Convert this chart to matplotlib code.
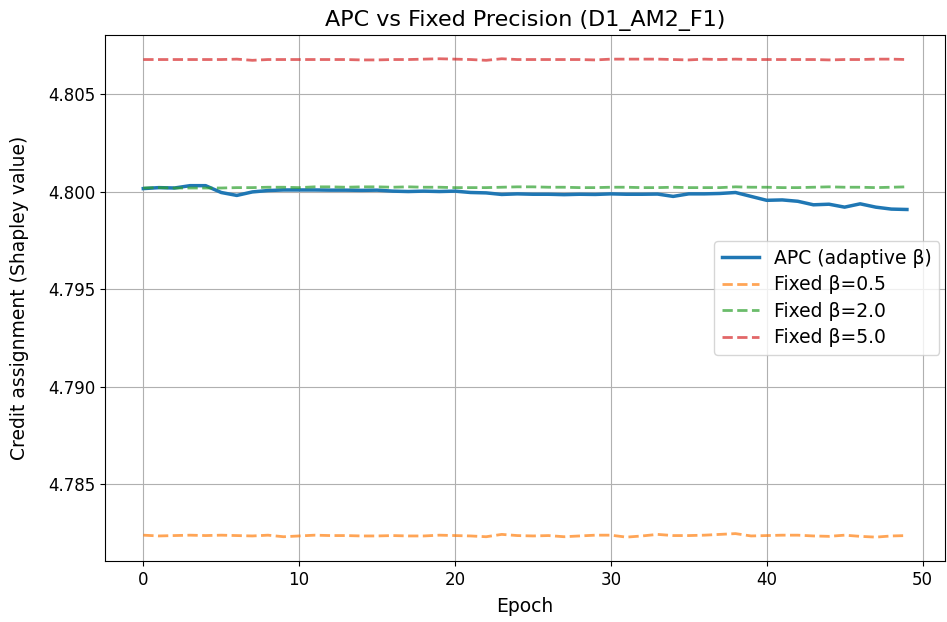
import matplotlib

matplotlib.use("Agg")
import matplotlib.pyplot as plt
import numpy as np

epochs = np.arange(50)

apc = [
    4.80015, 4.80020, 4.80018, 4.80030, 4.80030, 4.79995, 4.79980, 4.79998, 4.80005, 4.80008,
    4.80008, 4.80008, 4.80007, 4.80007, 4.80006, 4.80007, 4.80002, 4.80000, 4.80002, 4.80000,
    4.80002, 4.79995, 4.79993, 4.79985, 4.79988, 4.79986, 4.79986, 4.79984, 4.79986, 4.79985,
    4.79988, 4.79986, 4.79986, 4.79987, 4.79975, 4.79988, 4.79988, 4.79990, 4.79995, 4.79975,
    4.79955, 4.79957, 4.79950, 4.79932, 4.79935, 4.79920, 4.79937, 4.79920, 4.79910, 4.79908,
]

fixed_05 = [
    4.78240, 4.78236, 4.78238, 4.78240, 4.78238, 4.78240, 4.78238, 4.78236, 4.78240, 4.78232,
    4.78236, 4.78240, 4.78238, 4.78238, 4.78236, 4.78236, 4.78238, 4.78236, 4.78236, 4.78240,
    4.78238, 4.78236, 4.78232, 4.78244, 4.78238, 4.78236, 4.78238, 4.78232, 4.78236, 4.78240,
    4.78240, 4.78230, 4.78236, 4.78244, 4.78238, 4.78238, 4.78240, 4.78244, 4.78248, 4.78236,
    4.78238, 4.78240, 4.78240, 4.78236, 4.78234, 4.78240, 4.78234, 4.78230, 4.78236, 4.78238,
]

fixed_20 = [
    4.80018, 4.80020, 4.80018, 4.80018, 4.80018, 4.80018, 4.80020, 4.80020, 4.80022, 4.80022,
    4.80020, 4.80024, 4.80024, 4.80022, 4.80024, 4.80024, 4.80022, 4.80024, 4.80022, 4.80022,
    4.80020, 4.80020, 4.80020, 4.80022, 4.80024, 4.80024, 4.80022, 4.80022, 4.80020, 4.80020,
    4.80022, 4.80022, 4.80020, 4.80020, 4.80022, 4.80020, 4.80020, 4.80020, 4.80024, 4.80022,
    4.80022, 4.80020, 4.80020, 4.80022, 4.80024, 4.80022, 4.80022, 4.80020, 4.80022, 4.80024,
]

fixed_50 = [
    4.80676, 4.80676, 4.80676, 4.80676, 4.80676, 4.80676, 4.80678, 4.80672, 4.80676, 4.80676,
    4.80676, 4.80676, 4.80676, 4.80676, 4.80674, 4.80674, 4.80676, 4.80676, 4.80678, 4.80680,
    4.80678, 4.80676, 4.80672, 4.80680, 4.80676, 4.80676, 4.80676, 4.80676, 4.80676, 4.80674,
    4.80678, 4.80678, 4.80678, 4.80678, 4.80676, 4.80674, 4.80678, 4.80676, 4.80678, 4.80676,
    4.80676, 4.80676, 4.80676, 4.80676, 4.80674, 4.80676, 4.80676, 4.80678, 4.80678, 4.80676,
]


def main() -> None:
    plt.rcParams["font.size"] = 12
    fig, ax = plt.subplots(figsize=(9.47, 6.22), dpi=100)

    ax.plot(epochs, apc, color="#1f77b4", linewidth=2.5, label="APC (adaptive β)")
    ax.plot(epochs, fixed_05, color="#ff7f0e", linestyle="--", linewidth=2, alpha=0.7, label="Fixed β=0.5")
    ax.plot(epochs, fixed_20, color="#2ca02c", linestyle="--", linewidth=2, alpha=0.7, label="Fixed β=2.0")
    ax.plot(epochs, fixed_50, color="#d62728", linestyle="--", linewidth=2, alpha=0.7, label="Fixed β=5.0")

    ax.set_xlabel("Epoch", fontsize=13.5, labelpad=6)
    ax.set_ylabel("Credit assignment (Shapley value)", fontsize=13.5, labelpad=14)
    ax.set_title("APC vs Fixed Precision (D1_AM2_F1)", fontsize=16)
    ax.grid(True)
    ax.legend(loc="center right", fontsize=13.5, borderaxespad=0.3, labelspacing=0.4)

    fig.subplots_adjust(left=0.111, right=0.998, top=0.944, bottom=0.098)
    fig.savefig("out.png")
    plt.close(fig)


if __name__ == "__main__":
    main()
